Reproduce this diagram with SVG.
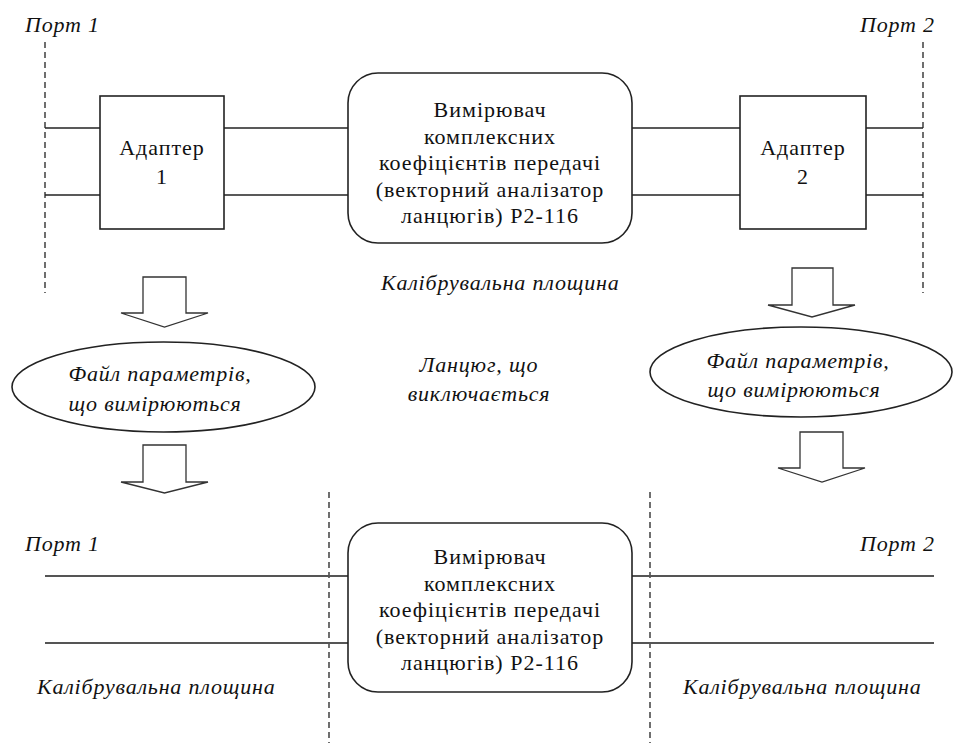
<svg xmlns="http://www.w3.org/2000/svg" width="954" height="743" viewBox="0 0 954 743">
<style>
.bg{fill:#fff}
.box{fill:#fff;stroke:#222;stroke-width:1.6}
.line{stroke:#222;stroke-width:1.6;fill:none}
.line2{stroke:#555;stroke-width:2;fill:none}
.dash{stroke:#222;stroke-width:1.3;stroke-dasharray:6,4;fill:none}
.arrow{fill:#fff;stroke:#333;stroke-width:1.3}
.t{font-size:22px;fill:#111;text-anchor:middle;letter-spacing:1px}
.i{font-style:italic;font-size:22px;fill:#111;letter-spacing:0.8px}
.c{text-anchor:middle}
</style>
<rect class="bg" x="0" y="0" width="954" height="743"/>
<g id="connectors">
<line class="dash" x1="45" y1="42" x2="45" y2="293"/>
<line class="dash" x1="923" y1="42" x2="923" y2="293"/>
<line class="line" x1="45" y1="128" x2="100" y2="128"/>
<line class="line" x1="45" y1="195" x2="100" y2="195"/>
<line class="line" x1="224" y1="128" x2="348" y2="128"/>
<line class="line" x1="224" y1="195" x2="348" y2="195"/>
<line class="line" x1="632" y1="128" x2="740" y2="128"/>
<line class="line" x1="632" y1="195" x2="740" y2="195"/>
<line class="line" x1="866" y1="128" x2="923" y2="128"/>
<line class="line" x1="866" y1="195" x2="923" y2="195"/>
<line class="dash" x1="329" y1="492" x2="329" y2="743"/>
<line class="dash" x1="650" y1="492" x2="650" y2="743"/>
<line class="line2" x1="45" y1="576" x2="348" y2="576"/>
<line class="line2" x1="45" y1="643" x2="348" y2="643"/>
<line class="line2" x1="632" y1="576" x2="934" y2="576"/>
<line class="line2" x1="632" y1="643" x2="934" y2="643"/>
<path class="arrow" d="M143,277 H186 V313 H208 L164.5,327 L121,313 H143 Z"/>
<path class="arrow" d="M143,445 H186 V482 H208 L164.5,493 L121,482 H143 Z"/>
<path class="arrow" d="M792,268 H833 V305 H855 L812,317 L768,305 H792 Z"/>
<path class="arrow" d="M800,432 H843 V468 H865 L822,482 L778,468 H800 Z"/>
</g>
<g font-family="Liberation Serif, Times New Roman, serif">
<g id="port1-top"><text class="i" x="25" y="32">Порт 1</text></g>
<g id="port2-top"><text class="i" x="860" y="32">Порт 2</text></g>
<g id="adapter1">
<rect class="box" x="100" y="96" width="124" height="133"/>
<text class="t" x="162" y="155">Адаптер</text>
<text class="t" x="162" y="184">1</text>
</g>
<g id="adapter2">
<rect class="box" x="740" y="96" width="126" height="133"/>
<text class="t" x="803" y="155">Адаптер</text>
<text class="t" x="803" y="184">2</text>
</g>
<g id="analyzer-top">
<rect class="box" x="348" y="73" width="284" height="170" rx="30" ry="30"/>
<text class="t" x="490" y="117">Вимірювач</text>
<text class="t" x="490" y="144">комплексних</text>
<text class="t" x="490" y="170">коефіцієнтів передачі</text>
<text class="t" x="490" y="197">(векторний аналізатор</text>
<text class="t" x="490" y="223">ланцюгів) Р2-116</text>
</g>
<g id="calib-top"><text class="i" x="381" y="290">Калібрувальна площина</text></g>
<g id="file-left">
<ellipse class="box" cx="163.5" cy="387" rx="151.5" ry="45"/>
<text class="i c" x="160" y="381">Файл параметрів,</text>
<text class="i c" x="155" y="411">що вимірюються</text>
</g>
<g id="chain"><text class="i c" x="479" y="372">Ланцюг, що</text>
<text class="i c" x="479" y="401">виключається</text></g>
<g id="file-right">
<ellipse class="box" cx="801" cy="372" rx="151" ry="45"/>
<text class="i c" x="798" y="368">Файл параметрів,</text>
<text class="i c" x="794" y="397">що вимірюються</text>
</g>
<g id="port1-bottom"><text class="i" x="25" y="551">Порт 1</text></g>
<g id="port2-bottom"><text class="i" x="860" y="551">Порт 2</text></g>
<g id="analyzer-bottom">
<rect class="box" x="348" y="523" width="284" height="169" rx="30" ry="30"/>
<text class="t" x="490" y="564">Вимірювач</text>
<text class="t" x="490" y="591">комплексних</text>
<text class="t" x="490" y="617">коефіцієнтів передачі</text>
<text class="t" x="490" y="644">(векторний аналізатор</text>
<text class="t" x="490" y="670">ланцюгів) Р2-116</text>
</g>
<g id="calib-bottom-left"><text class="i" x="37" y="694">Калібрувальна площина</text></g>
<g id="calib-bottom-right"><text class="i" x="683" y="694">Калібрувальна площина</text></g>
</g>
</svg>
